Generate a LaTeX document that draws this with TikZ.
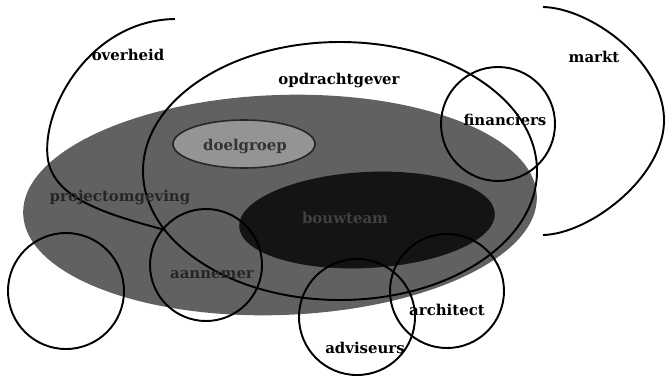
\documentclass[tikz,border=0pt]{standalone}
\usepackage{fontspec}
\setmainfont{DejaVu Serif}
\usetikzlibrary{positioning}
\tikzset{
  setlabel/.style={
    font=\fontsize{8.5}{9.5}\selectfont\bfseries,
    text=#1, inner sep=1pt
  },
  setline/.style={line width=1.1pt, draw=black},
  setarea/.style={draw=none, fill=#1},
}

\begin{document}
\begin{tikzpicture}[x=0.02cm, y=-0.02cm]
      \useasboundingbox (0,0) rectangle (665,376);
      \fill[setarea=black!62, rotate around={2:(280,205)}] (280,205) ellipse [x radius=257, y radius=110];
      \filldraw[fill=black!42, draw=black!85, line width=0.9pt] (244,144) ellipse [x radius=71, y radius=24];
      \fill[setarea=black!92, rotate around={3:(367,220)}] (367,220) ellipse [x radius=128, y radius=48];
      \draw[setline] (340,171) ellipse [x radius=197, y radius=129];
      \draw[setline] (175,19) .. controls (90,20) and (40,110) .. (48,160)
                              .. controls (55,200) and (110,215) .. (165,230);
      \draw[setline] (543,7) .. controls (590,8) and (662,60) .. (664,118)
                             .. controls (666,176) and (590,234) .. (543,235);
      \draw[setline] (498,124) circle [radius=57];
      \draw[setline] (447,291) circle [radius=57];
      \draw[setline] (357,317) circle [radius=58];
      \draw[setline] (206,265) circle [radius=56];
      \draw[setline] (66,291) circle [radius=58];
      \node[setlabel=black](overheid) at (128,55) {overheid};
      \node[setlabel=black](opdrachtgever) at (339,80) {opdrachtgever};
      \node[setlabel=black](markt) at (594,57) {markt};
      \node[setlabel=black](financiers) at (505,120) {financiers};
      \node[setlabel=black!80](doelgroep) at (245,146) {doelgroep};
      \node[setlabel=black!85](omgeving) at (120,197) {projectomgeving};
      \node[setlabel=black!75](bouwteam) at (345,218) {bouwteam};
      \node[setlabel=black!85](aannemer) at (212,275) {aannemer};
      \node[setlabel=black](architect) at (447,310) {architect};
      \node[setlabel=black](adviseurs) at (365,348) {adviseurs};
    \end{tikzpicture}
\end{document}
